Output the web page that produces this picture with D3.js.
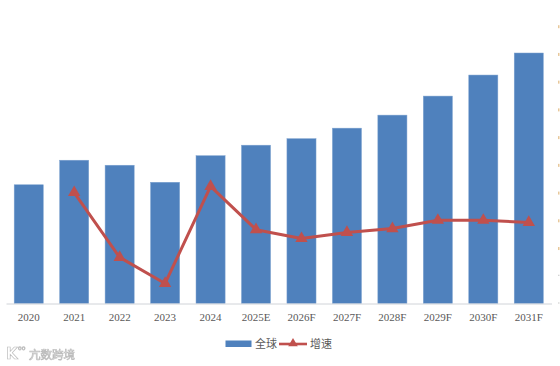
<!DOCTYPE html>
<html>
<head>
<meta charset="utf-8">
<script src="https://cdn.jsdelivr.net/npm/d3@7/dist/d3.min.js"></script>
<style>
html, body { margin: 0; padding: 0; background: #fff; }
svg { display: block; }
</style>
</head>
<body>
<svg id="chart" width="560" height="366"></svg>
<script>
const years = ["2020", "2021", "2022", "2023", "2024", "2025E", "2026F", "2027F", "2028F", "2029F", "2030F", "2031F"];
// the left axis is not shown so units are relative
const market = [118.5, 143, 138, 121, 147.5, 158, 164.5, 175, 188, 207, 228, 250];
const growth = [null, 40.2, 16.8, 7.4, 42.4, 26.8, 23.6, 25.8, 27.2, 30.2, 30.2, 29.4];
const growthTicks = [0, 10, 20, 30, 40, 50, 60, 70, 80, 90, 100];
const legendNames = ["全球", "增速"];
const watermarkText = "亢数跨境";

const svg = d3.select("#chart");
const baseline = 303.5;

const x = d3.scaleBand().domain(years).range([6, 551.5]).paddingInner(0.36).paddingOuter(0.18);
const y = d3.scaleLinear().domain([0, 250]).range([baseline, 53]);
const yRight = d3.scaleLinear().domain([0, 100]).range([304, 26.7]);

// bars
svg.append("g").selectAll("rect")
    .data(years)
    .join("rect")
    .attr("x", d => x(d))
    .attr("y", (d, i) => y(market[i]))
    .attr("width", x.bandwidth())
    .attr("height", (d, i) => baseline - y(market[i]))
    .attr("fill", "#4f81bd")
    .attr("stroke", "#7fa3d0")
    .attr("stroke-width", 0.5);

// category axis
const xAxis = svg.append("g")
    .attr("transform", `translate(0,${baseline})`)
    .call(d3.axisBottom(x).tickSize(0).tickPadding(10));
xAxis.select(".domain").attr("stroke", "#d0d3d8").attr("stroke-width", 1);
xAxis.selectAll("text")
    .attr("fill", "#595959")
    .style("font-family", "'Liberation Serif', serif")
    .style("font-size", "11px");

// right axis is cut off in the source, only specks of its labels are left
svg.append("g").selectAll("rect")
    .data(growthTicks)
    .join("rect")
    .attr("x", 558)
    .attr("y", d => yRight(d) - 1.5)
    .attr("width", 1.5)
    .attr("height", d => d < 20 ? 1 : 3)
    .attr("fill", d => d < 20 ? "#c8c8c8" : "#e8c89a");

// growth line
const line = d3.line()
    .defined(d => d.v !== null)
    .x(d => x(d.year) + x.bandwidth() / 2)
    .y(d => yRight(d.v));
const lineData = years.map((year, i) => ({ year, v: growth[i] }));
const triangle = d3.symbol().type(d3.symbolTriangle).size(66);

svg.append("path")
    .datum(lineData)
    .attr("d", line)
    .attr("fill", "none")
    .attr("stroke", "#c0504d")
    .attr("stroke-width", 3)
    .attr("stroke-linejoin", "round");

svg.append("g").selectAll("path")
    .data(lineData.filter(d => d.v !== null))
    .join("path")
    .attr("d", triangle)
    .attr("transform", d => `translate(${x(d.year) + x.bandwidth() / 2},${yRight(d.v)})`)
    .attr("fill", "#c0504d");

// legend
const legend = svg.append("g").style("font-family", "'Noto Sans CJK SC', sans-serif").style("font-size", "11px").attr("fill", "#595959");
legend.append("rect").attr("x", 225.5).attr("y", 340.5).attr("width", 26).attr("height", 6.5).attr("fill", "#4f81bd");
legend.append("text").attr("x", 255).attr("y", 348).text(legendNames[0]);
legend.append("line").attr("x1", 279).attr("x2", 307).attr("y1", 344).attr("y2", 344)
    .attr("stroke", "#c0504d").attr("stroke-width", 2.6);
legend.append("path").attr("d", d3.symbol().type(d3.symbolTriangle).size(40)).attr("transform", "translate(293,343.5)").attr("fill", "#c0504d");
legend.append("text").attr("x", 310).attr("y", 348).text(legendNames[1]);

// faint hollow watermark bottom left
svg.append("filter").attr("id", "soft").append("feGaussianBlur").attr("stdDeviation", 0.35);
const mark = svg.append("g").attr("fill", "#fff").attr("stroke", "#bdbdbd").attr("stroke-width", 0.7).attr("filter", "url(#soft)");
mark.append("text").attr("x", 6).attr("y", 359).style("font-family", "'DejaVu Sans', sans-serif").style("font-size", "15px").style("font-weight", "bold").text("K");
mark.append("text").attr("x", 18).attr("y", 350).style("font-family", "'DejaVu Sans', sans-serif").style("font-size", "6px").text("oo");
mark.append("text").attr("x", 29).attr("y", 358.5).style("font-family", "'Noto Sans CJK SC', sans-serif").style("font-size", "11.5px").text(watermarkText);
</script>
</body>
</html>
